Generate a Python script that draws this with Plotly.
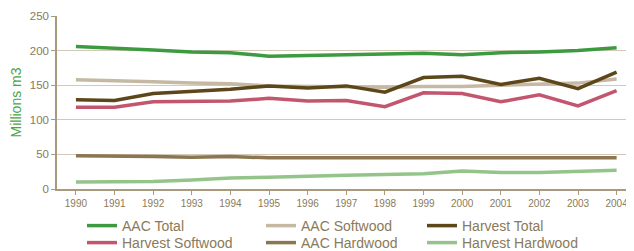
import plotly.graph_objects as go

years = list(range(1990, 2005))

aac_total = [206, 204, 201, 198, 197, 192, 193, 194, 194, 196, 194, 197, 198, 200, 204]
aac_softwood = [158, 157, 155, 153, 152, 149, 148, 148, 147, 148, 148, 150, 152, 153, 159]
harvest_total = [129, 128, 138, 141, 144, 149, 146, 149, 140, 161, 163, 151, 160, 145, 169]
harvest_softwood = [118, 118, 126, 127, 127, 131, 127, 128, 119, 139, 138, 126, 136, 120, 142]
aac_hardwood = [48, 48, 47, 46, 47, 45, 45, 46, 46, 46, 45, 45, 45, 45, 45]
harvest_hardwood = [10, 10, 11, 13, 16, 17, 19, 20, 21, 22, 26, 24, 24, 25, 27]

series_names = ["AAC Total", "AAC Softwood", "Harvest Total",
                "Harvest Softwood", "AAC Hardwood", "Harvest Hardwood"]
series_values = [aac_total, aac_softwood, harvest_total,
                 harvest_softwood, aac_hardwood, harvest_hardwood]
colors = ["#3d9a41", "#c6b9a3", "#5c461a", "#c2566f", "#8b7651", "#95c48a"]

y_ticks = [0, 50, 100, 150, 200, 250]

text_col = "#8a7a5a"
axis_col = "#a99a7e"
grid_col = "#d3c9b9"
font_family = "Liberation Sans, Arial, sans-serif"

# The page body has an 8px margin, so the figure is sized/positioned to compensate.
OFF = 8
W, H = 634 - OFF, 251 - OFF
ml, mr, mt, mb = 57 - OFF, 0, 16 - OFF, 62
pw, ph = W - ml - mr, H - mt - mb
leg_px = [(82, 226), (261, 226), (422, 226),
          (82, 243), (261, 243), (422, 243)]

fig = go.Figure()
layout_legends = {}
for i, (name, vals, col) in enumerate(zip(series_names, series_values, colors)):
    lname = "legend" if i == 0 else f"legend{i+1}"
    fig.add_trace(go.Scatter(
        x=years, y=vals, name=name, mode="lines",
        line=dict(color=col, width=3.5),
        legend=lname,
    ))
    px, py = leg_px[i]
    px -= OFF
    py -= OFF
    layout_legends[lname] = dict(
        x=(px - ml) / pw, y=(H - mb - py) / ph,
        xanchor="left", yanchor="middle",
        bgcolor="rgba(0,0,0,0)", borderwidth=0,
        font=dict(size=14, color=text_col, family=font_family),
        itemwidth=30,
    )

fig.update_layout(
    width=W, height=H,
    margin=dict(l=ml, r=mr, t=mt, b=mb, autoexpand=False),
    paper_bgcolor="white", plot_bgcolor="white",
    font=dict(family=font_family, color=text_col),
    showlegend=True,
    **layout_legends,
)

fig.update_xaxes(
    range=[1989.51, 2004.45],
    tickmode="array", tickvals=years, ticktext=[str(y) for y in years],
    showgrid=False, showline=True, linecolor=axis_col, linewidth=1.5,
    ticks="outside", ticklen=4, tickcolor=axis_col, tickwidth=1,
    tickfont=dict(size=10, color=text_col, family=font_family),
    ticklabeloverflow="allow", automargin=False,
    zeroline=False,
)
fig.update_yaxes(
    range=[0, 250],
    tickmode="array", tickvals=y_ticks,
    showgrid=True, gridcolor=grid_col, gridwidth=1,
    showline=True, linecolor=axis_col, linewidth=1.5,
    ticks="outside", ticklen=4, tickcolor=axis_col, tickwidth=1,
    tickfont=dict(size=11.5, color=text_col, family=font_family),
    title=dict(text="Millions m3", font=dict(size=14, color="#4aa54a", family=font_family), standoff=7),
    automargin=False,
    zeroline=False,
)

fig.write_html("out.html")
